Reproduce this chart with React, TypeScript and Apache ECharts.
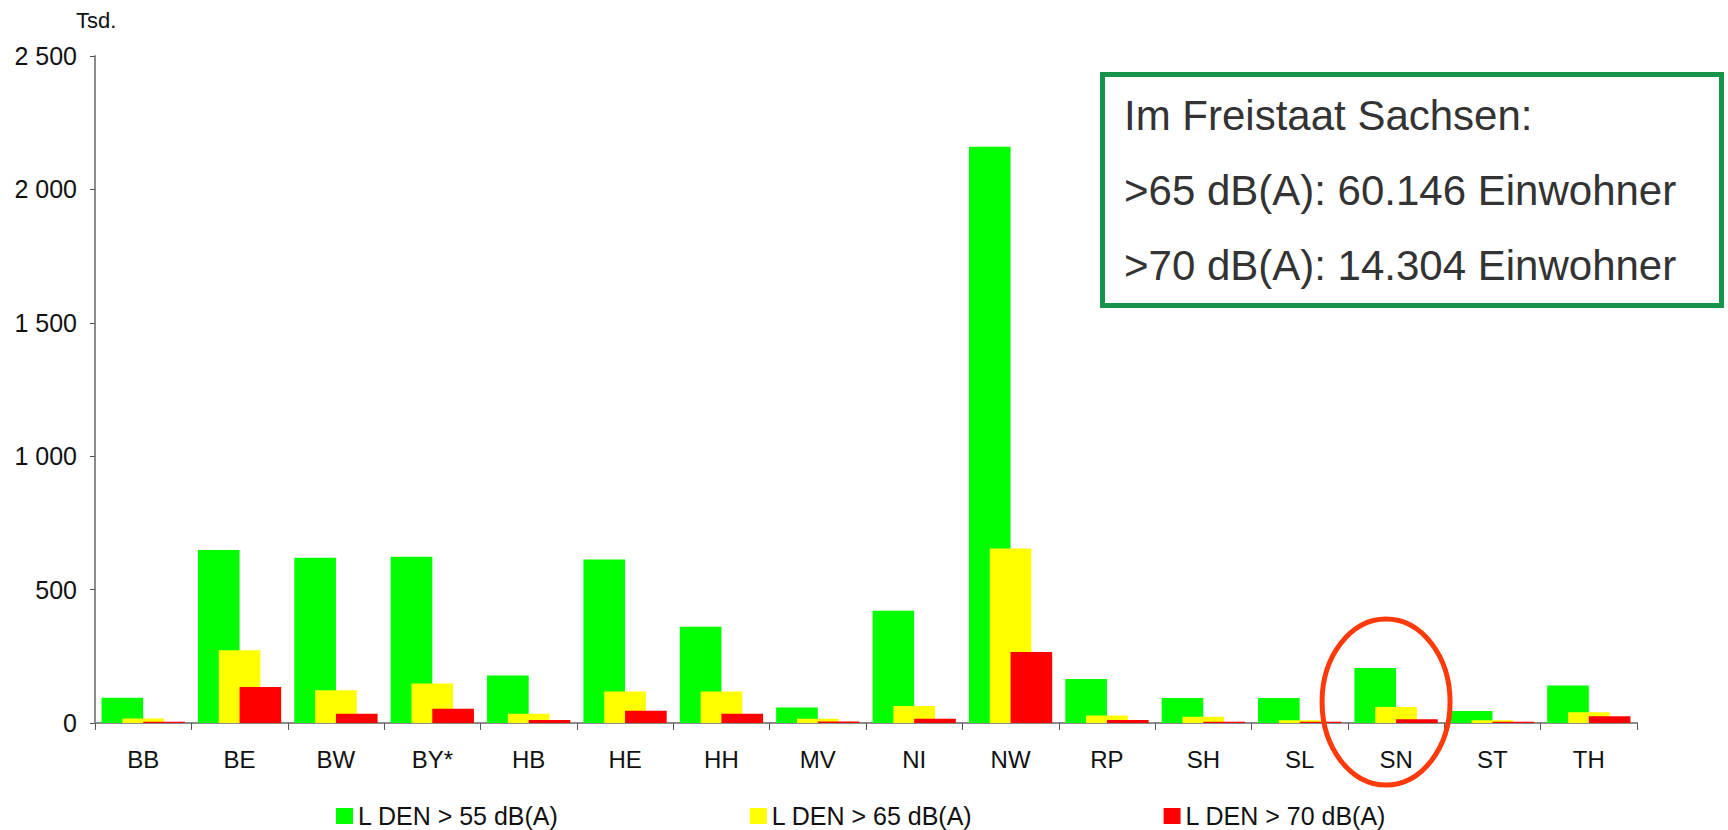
import React, { useEffect, useRef } from "react";
import * as echarts from "echarts";

const categories = ["BB", "BE", "BW", "BY*", "HB", "HE", "HH", "MV", "NI", "NW", "RP", "SH", "SL", "SN", "ST", "TH"];
const seriesNames = ["L DEN > 55 dB(A)", "L DEN > 65 dB(A)", "L DEN > 70 dB(A)"];
const green55 = [95, 648, 619, 623, 178, 613, 361, 58, 421, 2160, 165, 94, 94, 206, 45, 141];
const yellow65 = [17, 273, 123, 148, 35, 118, 118, 16, 64, 654, 28, 23, 10, 60, 10, 40];
const red70 = [5, 135, 35, 53, 11, 46, 35, 6, 16, 266, 11, 5, 5, 14, 5, 25];
const colors = ["#00ff00", "#ffff00", "#ff0000"];
const yTicks = { min: 0, max: 2500, interval: 500 };
const unitLabel = "Tsd.";
const boxLines = ["Im Freistaat Sachsen:", ">65 dB(A): 60.146 Einwohner", ">70 dB(A): 14.304 Einwohner"];
const highlight = "SN";

const FONT = "'Liberation Sans', Arial, sans-serif";

export default function App() {
  const ref = useRef<HTMLDivElement>(null);
  useEffect(() => {
    if (!ref.current) return;
    const chart = echarts.init(ref.current, undefined, { renderer: "svg" });
    const data = [green55, yellow65, red70];
    chart.setOption({
      animation: false,
      backgroundColor: "#ffffff",
      textStyle: { fontFamily: FONT },
      grid: { left: 95, right: 91, top: 56, bottom: 107, containLabel: false },
      legend: {
        left: 336,
        top: 802,
        padding: 0,
        itemWidth: 17,
        itemHeight: 16,
        itemGap: 191,
        icon: "rect",
        textStyle: { fontSize: 25, lineHeight: 28, color: "#111", fontFamily: FONT },
        data: seriesNames,
      },
      xAxis: {
        type: "category",
        data: categories,
        axisLine: { lineStyle: { color: "#8c8c8c", width: 2 } },
        axisTick: { show: true, length: 7, alignWithLabel: false, lineStyle: { color: "#555", width: 1 } },
        axisLabel: { fontSize: 24, color: "#111", margin: 24, fontFamily: FONT },
      },
      yAxis: {
        type: "value",
        min: yTicks.min,
        max: yTicks.max,
        interval: yTicks.interval,
        splitLine: { show: false },
        axisLine: { show: true, lineStyle: { color: "#8c8c8c", width: 2 } },
        axisTick: { show: true, length: 5, lineStyle: { color: "#555", width: 1 } },
        axisLabel: {
          fontSize: 25,
          color: "#111",
          margin: 18,
          fontFamily: FONT,
          formatter: (v: number) => String(v).replace(/\B(?=(\d{3})+(?!\d))/g, " "),
        },
      },
      series: seriesNames.map((name, i) => ({
        name,
        type: "bar",
        data: data[i],
        barGap: "-50%",
        barCategoryGap: "13.6%",
        itemStyle: { color: colors[i] },
        z: 2 + i,
      })),
      graphic: [
        {
          type: "text",
          left: 76,
          top: 9,
          style: { text: unitLabel, fontSize: 22, fill: "#111", fontFamily: FONT },
        },
        {
          type: "rect",
          shape: { x: 1102.5, y: 74.5, width: 619, height: 231 },
          style: { fill: "#ffffff", stroke: "#17934b", lineWidth: 5 },
          z: 10,
        },
        ...boxLines.map((t, i) => ({
          type: "text",
          x: 1124,
          y: 115 + i * 75,
          z: 11,
          style: {
            text: t,
            fontSize: 42,
            fill: "#333333",
            fontFamily: FONT,
            textVerticalAlign: "middle",
            verticalAlign: "middle",
          },
        })),
      ],
    });
    const cx = chart.convertToPixel({ xAxisIndex: 0 }, highlight) as number;
    const y0 = chart.convertToPixel({ yAxisIndex: 0 }, 0) as number;
    chart.setOption({
      graphic: [
        {
          id: "ellipse",
          type: "ellipse",
          shape: { cx: cx - 10, cy: y0 - 21, rx: 64, ry: 83 },
          style: { fill: "none", stroke: "#ff3a0a", lineWidth: 5 },
          z: 20,
        },
      ],
    });
    return () => chart.dispose();
  }, []);
  return (
    <div
      ref={ref}
      style={{ position: "fixed", left: 0, top: 0, width: 1728, height: 830, background: "#fff" }}
    />
  );
}
